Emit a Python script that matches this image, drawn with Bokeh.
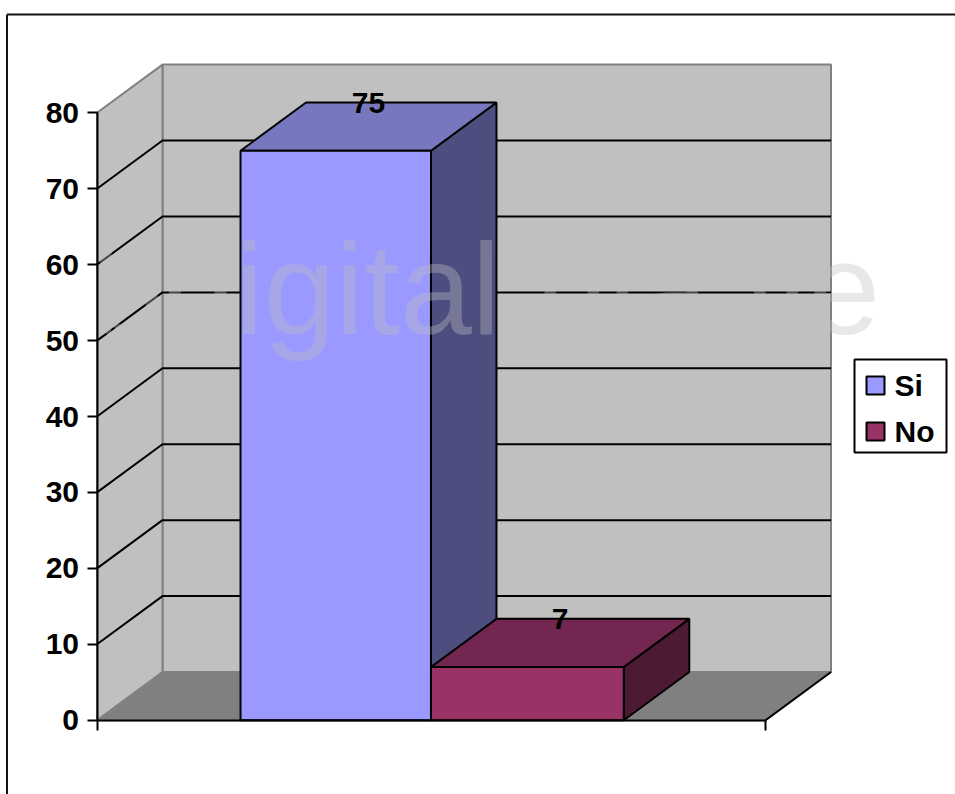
from bokeh.plotting import figure
from bokeh.models import LinearAxis, FixedTicker, Range1d, CustomJSTickFormatter
from bokeh.embed import file_html
from bokeh.resources import INLINE
from bokeh.core.properties import value

categories = ["Si", "No"]
values = [75, 7]
front_colors = ["#9999ff", "#993366"]
top_colors = ["#7777bf", "#732650"]
side_colors = ["#4d4d80", "#4d1a33"]
y_ticks = [0, 10, 20, 30, 40, 50, 60, 70, 80]
bar_edges = [0.2147, 0.4996, 0.788]
watermark = "bdigital.ula.ve"

W, H = 955, 794
PX_X = 668.5          # pixels per unit of the category axis
PX_Y = 7.5925         # pixels per value unit
X0, Y0 = 96.5, 719.7  # pixel of the axes' origin
DX = 65.5 / PX_X      # depth of the box, in axis units
DY = 48.2 / PX_Y
YMAX = y_ticks[-1]
FONT = value("Liberation Sans")


def fx(px):
    return (px - X0) / PX_X


def fy(px):
    return (Y0 - px) / PX_Y


p = figure(
    width=W, height=H, output_backend="svg", toolbar_location=None,
    x_range=Range1d(fx(0), fx(W)),
    y_range=Range1d(fy(H), fy(0)),
    min_border=0, outline_line_color=None, background_fill_color="white",
    x_axis_type=None, y_axis_type=None,
)
p.xgrid.visible = False
p.ygrid.visible = False

# chart border
p.line([fx(6.5), fx(6.5)], [fy(800), fy(14)], line_color="#111111", line_width=2)
p.line([fx(6.5), fx(960)], [fy(14), fy(14)], line_color="#111111", line_width=2)

GRAY = "#808080"
# walls and floor
p.patch([0, DX, 1 + DX, 1], [0, DY, DY, 0], fill_color=GRAY, line_color=GRAY, line_width=2)
p.patch([DX, 1 + DX, 1 + DX, DX], [DY, DY, YMAX + DY, YMAX + DY], fill_color="#c0c0c0", line_color=GRAY, line_width=2)
p.patch([0, DX, DX, 0], [0, DY, YMAX + DY, YMAX], fill_color="#c0c0c0", line_color=GRAY, line_width=2)

# gridlines
for t in y_ticks[1:-1]:
    p.line([0, DX, 1 + DX], [t, t + DY, t + DY], line_color="black", line_width=2)

# floor right edge
p.line([1, 1 + DX], [0, DY], line_color="black", line_width=2)

# bars
for i, v in enumerate(values):
    x0, x1 = bar_edges[i], bar_edges[i + 1]
    p.patch([x1, x1 + DX, x1 + DX, x1], [0, DY, v + DY, v], fill_color=side_colors[i], line_color="black", line_width=2)
    p.patch([x0, x1, x1 + DX, x0 + DX], [v, v, v + DY, v + DY], fill_color=top_colors[i], line_color="black", line_width=2)
    p.quad(left=x0, right=x1, bottom=0, top=v, fill_color=front_colors[i], line_color="black", line_width=2)

# axes
blank = CustomJSTickFormatter(code="return ''")
ax = LinearAxis(fixed_location=0, ticker=FixedTicker(ticks=y_ticks), bounds=(0, YMAX))
ax.axis_line_color = "black"
ax.axis_line_width = 2
ax.major_tick_line_color = "black"
ax.major_tick_line_width = 2
ax.major_tick_in = 0
ax.major_tick_out = 10
ax.minor_tick_line_color = None
ax.major_label_standoff = 8
ax.major_label_text_font = "Liberation Sans"
ax.major_label_text_font_style = "bold"
ax.major_label_text_font_size = "30px"
ax.major_label_text_color = "black"
p.add_layout(ax, "left")

bx = LinearAxis(fixed_location=0, ticker=FixedTicker(ticks=[0, 1]), bounds=(0, 1), formatter=blank)
bx.axis_line_color = "black"
bx.axis_line_width = 2
bx.major_tick_line_color = "black"
bx.major_tick_line_width = 2
bx.major_tick_in = 0
bx.major_tick_out = 10
bx.minor_tick_line_color = None
p.add_layout(bx, "below")

# data labels
lx = [(bar_edges[i] + bar_edges[i + 1]) / 2 + DX / 2 for i in range(len(values))]
ly = [v + DY for v in values]
p.text(lx, ly, text=[str(v) for v in values], text_align="center", text_baseline="middle",
       text_font=FONT, text_font_style="bold", text_font_size="30px", text_color="black")

# legend
p.quad(left=fx(854), right=fx(946), top=fy(359), bottom=fy(452), fill_color="white", line_color="black", line_width=2)
LEG_Y = [385, 431]
for c, col, y in zip(categories, front_colors, LEG_Y):
    p.quad(left=fx(866), right=fx(884), top=fy(y - 9), bottom=fy(y + 9), fill_color=col, line_color="black", line_width=2)
    p.text([fx(894)], [fy(y)], text=[c], text_align="left", text_baseline="middle",
           text_font=FONT, text_font_style="bold", text_font_size="30px", text_color="black")

# watermark
p.text([fx(91)], [fy(288)], text=[watermark], text_align="left", text_baseline="alphabetic",
       text_font=FONT, text_font_size="129px", text_color="#c0c0c0", text_alpha=0.37)

open("out.html", "w").write(file_html(p, INLINE))
